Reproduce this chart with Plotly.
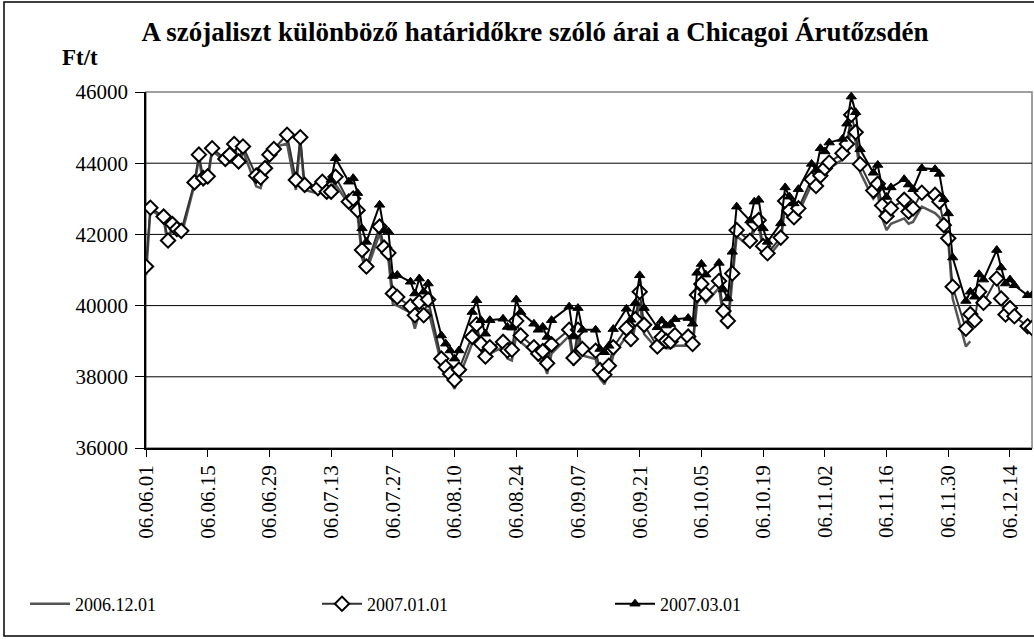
import plotly.graph_objects as go

dates = [
    "2006-06-01", "2006-06-02",
    "2006-06-05", "2006-06-06", "2006-06-07", "2006-06-08", "2006-06-09",
    "2006-06-12", "2006-06-13", "2006-06-14", "2006-06-15", "2006-06-16",
    "2006-06-19", "2006-06-20", "2006-06-21", "2006-06-22", "2006-06-23",
    "2006-06-26", "2006-06-27", "2006-06-28", "2006-06-29", "2006-06-30",
    "2006-07-03", "2006-07-05", "2006-07-06", "2006-07-07",
    "2006-07-10", "2006-07-11", "2006-07-12", "2006-07-13", "2006-07-14",
    "2006-07-17", "2006-07-18", "2006-07-19", "2006-07-20", "2006-07-21",
    "2006-07-24", "2006-07-25", "2006-07-26", "2006-07-27", "2006-07-28",
    "2006-07-31", "2006-08-01", "2006-08-02", "2006-08-03", "2006-08-04",
    "2006-08-07", "2006-08-08", "2006-08-09", "2006-08-10", "2006-08-11",
    "2006-08-14", "2006-08-15", "2006-08-16", "2006-08-17", "2006-08-18",
    "2006-08-21", "2006-08-22", "2006-08-23", "2006-08-24", "2006-08-25",
    "2006-08-28", "2006-08-29", "2006-08-30", "2006-08-31", "2006-09-01",
    "2006-09-05", "2006-09-06", "2006-09-07", "2006-09-08",
    "2006-09-11", "2006-09-12", "2006-09-13", "2006-09-14", "2006-09-15",
    "2006-09-18", "2006-09-19", "2006-09-20", "2006-09-21", "2006-09-22",
    "2006-09-25", "2006-09-26", "2006-09-27", "2006-09-28", "2006-09-29",
    "2006-10-02", "2006-10-03", "2006-10-04", "2006-10-05", "2006-10-06",
    "2006-10-09", "2006-10-10", "2006-10-11", "2006-10-12", "2006-10-13",
    "2006-10-16", "2006-10-17", "2006-10-18", "2006-10-19", "2006-10-20",
    "2006-10-23", "2006-10-24", "2006-10-25", "2006-10-26", "2006-10-27",
    "2006-10-30", "2006-10-31", "2006-11-01", "2006-11-02", "2006-11-03",
    "2006-11-06", "2006-11-07", "2006-11-08", "2006-11-09", "2006-11-10",
    "2006-11-13", "2006-11-14", "2006-11-15", "2006-11-16", "2006-11-17",
    "2006-11-20", "2006-11-21", "2006-11-22", "2006-11-24",
    "2006-11-27", "2006-11-28", "2006-11-29", "2006-11-30", "2006-12-01",
    "2006-12-04", "2006-12-05", "2006-12-06", "2006-12-07", "2006-12-08",
    "2006-12-11", "2006-12-12", "2006-12-13", "2006-12-14", "2006-12-15",
    "2006-12-18", "2006-12-19",
]

s_2006_12 = [
    40850, 42700,
    42450, 41650, 42200, 42000, 41950,
    43400, 44150, 43400, 43500, 44350,
    44050, 44100, 44400, 43850, 44350,
    43350, 43300, 43700, 44150, 44450,
    44550, 43250, 44600, 43250,
    43150, 43250, 43150, 43100, 43400,
    42850, 42850, 42550, 41350, 40950,
    42030, 41450, 41300, 40050, 40000,
    39800, 39350, 39800, 39550, 39900,
    38370, 38080, 37900, 37660, 37990,
    38980, 39260, 38740, 38410, 38650,
    38830, 38510, 38460, 39160, 38980,
    38650, 38460, 38460, 38080, 38650,
    39150, 38310, 39100, 38600,
    38500, 37950, 37790, 38100, 38600,
    39150, 38850, 39450, 40100, 39200,
    38780, 38830, 38800, 38800, 38870,
    38880, 38830, 40050, 40300, 40080,
    40500, 39650, 39350, 40700, 41950,
    41650, 42150, 42250, 41550, 41350,
    41800, 42800, 42550, 42350, 42600,
    43400, 43200, 43500, 43700, 43850,
    44100, 44300, 45050, 44600, 43750,
    43000, 43150, 42450, 42120, 42300,
    42450, 42300, 42350, 42780,
    42600, 42480, 42220, 41840, 40200,
    38850, 39000, None, None, None,
    None, None, None, None, None,
    None, None,
]

s_2007_01 = [
    41100, 42750,
    42500, 41830, 42290, 42150, 42100,
    43460, 44240, 43580, 43630, 44420,
    44120, 44240, 44540, 44050, 44470,
    43650, 43600, 43860, 44240, 44400,
    44800, 43530, 44730, 43390,
    43300, 43480, 43200, 43200, 43620,
    42920, 43010, 42680, 41560, 41100,
    42220, 41630, 41480, 40340, 40240,
    39980, 39730, 40100, 39730, 40170,
    38510, 38270, 38080, 37910, 38200,
    39120, 39470, 38930, 38570, 38830,
    38980, 38740, 38760, 39570, 39160,
    38830, 38650, 38720, 38380, 38910,
    39320, 38530, 39320, 38780,
    38730, 38190, 38060, 38310, 38830,
    39360, 39060, 39620, 40390, 39460,
    38850, 39110, 39010, 38990, 39170,
    39130, 38920, 40300, 40610, 40320,
    40690, 39850, 39570, 40900, 42120,
    41820, 42300, 42400, 41670, 41470,
    41910, 42940, 42670, 42480, 42730,
    43550, 43360, 43650, 43860, 44020,
    44280, 44540, 45360, 44870, 43970,
    43230, 43420, 42810, 42510, 42730,
    42970, 42640, 42730, 43170,
    43110, 42920, 42260, 41890, 40530,
    39350, 39760, 39590, 40390, 40080,
    40760, 40200, 39750, 39930, 39700,
    39420, 39370,
]

s_2007_03 = [
    None, None,
    None, None, None, None, None,
    None, None, None, None, None,
    None, None, None, None, None,
    None, None, None, None, None,
    None, None, None, None,
    None, None, None, 43530, 44140,
    43480, 43580, 43160, 42170, 41790,
    42830, 42120, 42080, 40830, 40860,
    40670, 40340, 40760, 40390, 40620,
    39160, 38930, 38740, 38510, 38740,
    39820, 40150, 39590, 39210, 39590,
    39630, 39400, 39380, 40170, 39820,
    39490, 39320, 39400, 39120, 39590,
    39970, 39130, 39930, 39320,
    39320, 38780, 38690, 38870, 39340,
    39910, 39600, 40070, 40850, 39930,
    39390, 39580, 39440, 39480, 39620,
    39650, 39490, 40920, 41170, 40870,
    41200, 40450, 40200, 41510, 42780,
    42390, 42920, 42970, 42170, 41790,
    42310, 43320, 43060, 42870, 43270,
    43980, 43810, 44420, 44330, 44580,
    44680, 45110, 45870, 45430, 44390,
    43730, 43950, 43320, 43050, 43320,
    43550, 43400, 43270, 43860,
    43830, 43700, 42990, 42590, 41350,
    40130, 40390, 40250, 40880, 40730,
    41560, 41070, 40620, 40730, 40570,
    40290, 40290,
]

tick_dates = ["2006-06-01", "2006-06-15", "2006-06-29", "2006-07-13", "2006-07-27",
              "2006-08-10", "2006-08-24", "2006-09-07", "2006-09-21", "2006-10-05",
              "2006-10-19", "2006-11-02", "2006-11-16", "2006-11-30", "2006-12-14"]
tick_labels = ["06.06.01", "06.06.15", "06.06.29", "06.07.13", "06.07.27",
               "06.08.10", "06.08.24", "06.09.07", "06.09.21", "06.10.05",
               "06.10.19", "06.11.02", "06.11.16", "06.11.30", "06.12.14"]
y_ticks = [36000, 38000, 40000, 42000, 44000, 46000]
y_grid = [38000, 40000, 42000, 44000]

FONT = "Liberation Serif, Times New Roman, serif"
W, H = 1034, 639
L, R, T, B = 146, 2, 92, 191
PW, PH = W - L - R, H - T - B


def px_x(x):
    return (x - L) / PW


def px_y(y):
    return (H - B - y) / PH


fig = go.Figure()
fig.add_trace(go.Scatter(
    x=dates, y=s_2006_12, name="2006.12.01", mode="lines",
    line=dict(color="#555555", width=2.5), legend="legend",
))
fig.add_trace(go.Scatter(
    x=dates, y=s_2007_01, name="2007.01.01", mode="lines+markers",
    line=dict(color="#333333", width=2),
    marker=dict(symbol="diamond", size=11, color="white",
                line=dict(color="black", width=2)),
    legend="legend2",
))
fig.add_trace(go.Scatter(
    x=dates, y=s_2007_03, name="2007.03.01", mode="lines+markers",
    line=dict(color="black", width=2),
    marker=dict(symbol="triangle-up", size=9, color="black",
                line=dict(color="black", width=1)),
    legend="legend3",
))

shapes = []
# plot area border (gray)
shapes.append(dict(type="rect", xref="paper", yref="paper", x0=0, y0=0, x1=1, y1=1,
                   line=dict(color="#808080", width=1.5), layer="below"))
# horizontal gridlines
for g in y_grid:
    shapes.append(dict(type="line", xref="paper", yref="y", x0=0, x1=1, y0=g, y1=g,
                       line=dict(color="black", width=1), layer="below"))
# outer chart border
shapes.append(dict(type="rect", xref="paper", yref="paper",
                   x0=px_x(4), x1=px_x(1040), y0=px_y(636), y1=px_y(2),
                   line=dict(color="black", width=1.5), layer="below"))


def legend_at(xpix):
    return dict(orientation="h", xref="container", yref="container",
                x=xpix / W, y=1 - 604 / H, xanchor="left", yanchor="middle",
                font=dict(family=FONT, size=18, color="black"),
                bgcolor="rgba(0,0,0,0)", itemwidth=40)


fig.update_layout(
    width=W, height=H,
    margin=dict(l=L, r=R, t=T, b=B),
    paper_bgcolor="white", plot_bgcolor="white",
    font=dict(family=FONT, color="black", size=20),
    title=dict(text="<b>A szójaliszt különböző határidőkre szóló árai a Chicagoi Árutőzsdén</b>",
               x=535 / W, xref="container", xanchor="center",
               y=1 - 32 / H, yref="container", yanchor="middle",
               font=dict(family=FONT, size=27, color="black")),
    showlegend=True,
    legend=legend_at(25),
    legend2=legend_at(317),
    legend3=legend_at(610),
    shapes=shapes,
    annotations=[dict(text="<b>Ft/t</b>", xref="paper", yref="paper",
                      x=px_x(60), y=px_y(57),
                      xanchor="left", yanchor="middle", showarrow=False,
                      font=dict(family=FONT, size=23, color="black"))],
)

fig.update_xaxes(
    type="date", range=["2006-06-01", "2006-12-19"],
    tickmode="array", tickvals=tick_dates, ticktext=tick_labels,
    tickangle=-90, ticks="outside", ticklen=7, tickcolor="black", tickwidth=1,
    showline=True, linecolor="black", linewidth=1.5,
    showgrid=False, zeroline=False,
    tickfont=dict(family=FONT, size=21, color="black"),
)
fig.update_yaxes(
    range=[36000, 46000], tickmode="array", tickvals=y_ticks,
    ticktext=[str(v) for v in y_ticks],
    ticks="outside", ticklen=9, tickcolor="black", tickwidth=1,
    ticklabelstandoff=3,
    showline=True, linecolor="black", linewidth=1.5,
    showgrid=False, zeroline=False,
    tickfont=dict(family=FONT, size=21, color="black"),
)

fig.write_html("out.html", config={"displayModeBar": False},
               post_script="document.body.style.margin='0';")
